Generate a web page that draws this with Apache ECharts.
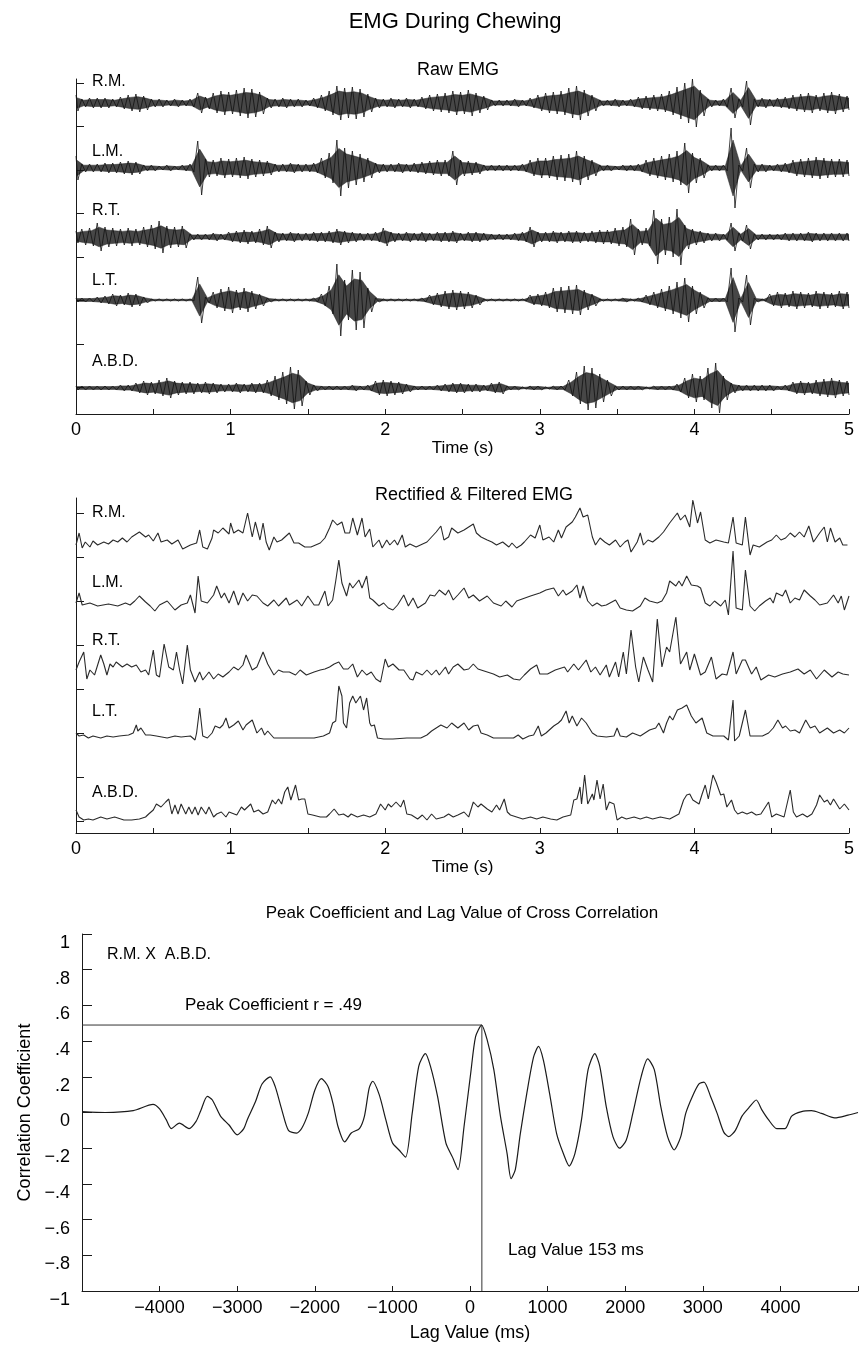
<!DOCTYPE html>
<html>
<head>
<meta charset="utf-8">
<title>EMG During Chewing</title>
<script src="https://cdn.jsdelivr.net/npm/echarts@6.0.0/dist/echarts.min.js"></script>
<style>
  html, body { margin: 0; padding: 0; background: #fff; }
  #chart { width: 861px; height: 1345px; }
</style>
</head>
<body>
<div id="chart"></div>
<script>
// ---- data ----
var traceNames = ['R.M.', 'L.M.', 'R.T.', 'L.T.', 'A.B.D.'];
var timeTicks = [0, 1, 2, 3, 4, 5];

// raw EMG: envelope half-amplitude every 0.05 s (0 .. 5 s)
var RAW_STEP = 0.05;
var rawRM = [8,4,5,5,5,4,6,8,9,7, 4,4,3,4,3,4,10,6,10,12, 11,13,15,14,11,5,4,5,4,4, 3,5,8,12,17,15,16,14,9,5,
  4,5,4,5,4,6,8,9,10,12, 11,13,10,7,3,3,3,4,3,5, 8,10,11,12,15,17,13,8,3,3, 4,3,4,6,7,8,9,12,16,20,
  24,13,4,3,4,15,4,22,4,5, 4,5,6,8,9,10,8,10,11,9, 7];
var rawLM = [12,4,4,4,5,5,6,7,6,3, 3,2,3,2,3,4,27,9,8,10, 9,10,11,9,8,7,4,4,5,4, 4,5,10,15,28,20,17,14,10,5,
  4,4,5,4,5,6,7,8,8,17, 8,7,6,3,3,3,3,3,4,8, 10,10,12,13,14,17,12,8,3,3, 2,3,3,4,8,10,12,14,17,25,
  15,10,3,3,3,40,3,20,4,4, 3,4,5,8,9,10,11,10,9,9, 8];
var rawRT = [6,8,9,14,10,9,8,9,8,10, 12,16,11,10,11,3,3,3,4,3, 5,6,7,6,8,11,5,4,5,4, 4,5,5,6,8,6,5,4,4,5,
  9,5,4,5,4,5,4,5,5,6, 4,5,5,4,3,3,3,4,5,10, 5,5,6,5,6,6,5,6,7,7, 9,10,18,8,9,27,18,20,28,12,
  8,6,4,4,3,14,4,12,3,3, 3,3,4,4,4,5,4,4,4,4, 4];
var rawLT = [2,2,2,3,4,6,5,7,6,3, 1,1,1,1,1,1,23,3,8,11, 13,10,12,9,6,2,1,1,1,1, 1,2,6,14,36,20,30,28,12,2,
  1,1,1,1,1,2,5,7,9,10, 9,8,5,1,1,1,1,1,1,5, 6,8,12,13,14,15,10,6,1,1, 1,2,1,2,5,8,11,14,18,22,
  14,8,2,2,2,32,2,25,2,1, 6,8,7,9,8,7,9,8,7,9, 8];
var rawABD = [2,2,2,2,2,2,3,3,5,7, 6,8,10,7,6,6,5,6,5,4, 4,5,4,5,5,8,12,16,21,18, 7,3,2,2,2,2,3,2,3,7,
  8,7,6,4,2,2,2,3,4,5, 5,4,4,3,5,6,2,2,1,2, 2,1,2,2,8,16,22,20,14,8, 2,2,2,2,1,2,2,2,4,10,
  14,12,20,25,12,5,3,3,3,3, 3,2,3,6,7,6,8,9,10,8, 7];

// rectified & filtered EMG: [time s, height above trace floor]
var rectRM = [[0,5],[0.02,17],[0.04,2],[0.06,8],[0.09,3],[0.11,9],[0.14,5],[0.18,8],[0.21,6],[0.24,10],[0.27,8],[0.30,12],
  [0.33,8],[0.36,13],[0.38,15],[0.41,18],[0.45,13],[0.47,15],[0.50,9],[0.53,17],[0.55,8],[0.59,10],[0.62,6],[0.66,10],
  [0.69,1],[0.74,5],[0.78,7],[0.80,20],[0.82,3],[0.85,1],[0.88,12],[0.89,20],[0.92,17],[0.95,22],[0.99,16],[1.00,27],
  [1.02,17],[1.05,20],[1.08,17],[1.11,37],[1.14,13],[1.16,28],[1.19,10],[1.21,27],[1.23,8],[1.25,0],[1.28,13],[1.30,8],
  [1.33,10],[1.38,17],[1.41,7],[1.44,7],[1.48,3],[1.52,3],[1.58,7],[1.61,12],[1.64,22],[1.66,30],[1.69,25],[1.72,28],
  [1.74,17],[1.77,17],[1.79,32],[1.82,15],[1.85,32],[1.87,13],[1.90,21],[1.92,3],[1.96,10],[1.98,2],[2.01,10],[2.03,5],
  [2.06,10],[2.08,5],[2.11,15],[2.13,3],[2.16,6],[2.20,3],[2.27,8],[2.30,13],[2.33,18],[2.36,24],[2.38,10],[2.41,13],
  [2.43,22],[2.47,17],[2.51,20],[2.54,23],[2.57,26],[2.59,17],[2.62,13],[2.66,10],[2.69,8],[2.72,5],[2.76,8],[2.80,3],
  [2.82,7],[2.85,2],[2.88,5],[2.90,8],[2.94,15],[2.97,12],[3.00,25],[3.02,10],[3.06,13],[3.09,8],[3.12,20],[3.14,12],
  [3.17,23],[3.21,28],[3.23,33],[3.26,42],[3.28,33],[3.31,35],[3.34,13],[3.36,5],[3.39,12],[3.42,8],[3.45,5],[3.49,10],
  [3.52,3],[3.55,8],[3.57,10],[3.59,-2],[3.63,8],[3.65,17],[3.67,5],[3.70,10],[3.73,8],[3.77,13],[3.80,18],[3.84,27],
  [3.89,37],[3.91,30],[3.94,35],[3.97,23],[3.99,50],[4.02,27],[4.04,38],[4.07,10],[4.10,7],[4.14,10],[4.19,8],[4.22,7],
  [4.25,33],[4.27,7],[4.31,5],[4.33,33],[4.36,-5],[4.38,5],[4.42,3],[4.47,8],[4.50,10],[4.53,15],[4.56,10],[4.59,12],
  [4.62,17],[4.65,13],[4.68,18],[4.71,13],[4.74,24],[4.77,8],[4.81,17],[4.84,23],[4.86,8],[4.88,22],[4.91,8],[4.94,12],
  [4.96,5],[4.99,5]];
var rectLM = [[0,5],[0.02,15],[0.04,3],[0.09,5],[0.14,2],[0.21,4],[0.27,2],[0.32,5],[0.35,3],[0.38,7],[0.41,12],[0.45,6],
  [0.48,2],[0.51,-3],[0.54,3],[0.59,7],[0.64,-2],[0.68,3],[0.72,5],[0.74,13],[0.77,-5],[0.79,32],[0.81,7],[0.85,5],
  [0.89,13],[0.91,22],[0.94,10],[0.96,15],[0.99,5],[1.02,17],[1.05,3],[1.08,15],[1.11,7],[1.14,13],[1.17,12],[1.21,5],
  [1.24,2],[1.28,8],[1.31,2],[1.36,10],[1.38,3],[1.43,8],[1.46,2],[1.50,12],[1.54,3],[1.57,3],[1.61,17],[1.63,2],
  [1.66,8],[1.68,27],[1.70,48],[1.72,25],[1.75,12],[1.77,25],[1.79,20],[1.83,28],[1.85,20],[1.88,32],[1.90,10],[1.92,8],
  [1.96,2],[1.99,5],[2.02,0],[2.05,-2],[2.08,3],[2.12,13],[2.15,2],[2.18,10],[2.21,0],[2.26,5],[2.29,13],[2.32,12],
  [2.35,18],[2.39,13],[2.41,18],[2.44,8],[2.47,13],[2.51,20],[2.54,10],[2.57,13],[2.61,7],[2.66,12],[2.70,5],[2.75,2],
  [2.78,7],[2.82,1],[2.85,7],[2.94,12],[3.00,15],[3.04,18],[3.09,20],[3.12,12],[3.15,18],[3.17,13],[3.21,17],[3.24,23],
  [3.26,10],[3.28,22],[3.31,7],[3.34,2],[3.37,5],[3.40,2],[3.43,3],[3.49,8],[3.52,0],[3.56,-2],[3.60,-3],[3.65,2],
  [3.68,10],[3.71,7],[3.76,5],[3.79,7],[3.82,15],[3.84,27],[3.88,22],[3.90,27],[3.92,22],[3.95,32],[3.98,23],[4.02,22],
  [4.04,20],[4.07,5],[4.10,2],[4.13,7],[4.17,2],[4.20,8],[4.22,-7],[4.25,57],[4.27,0],[4.31,-2],[4.33,38],[4.36,2],
  [4.39,-3],[4.42,2],[4.46,7],[4.49,10],[4.51,5],[4.53,15],[4.57,12],[4.59,18],[4.62,5],[4.65,10],[4.68,8],[4.71,18],
  [4.75,12],[4.78,8],[4.81,3],[4.86,5],[4.90,13],[4.93,5],[4.95,12],[4.97,-2],[5.00,12]];
var rectRT = [[0,12],[0.02,20],[0.05,30],[0.07,3],[0.09,12],[0.12,7],[0.16,27],[0.18,18],[0.20,7],[0.22,18],[0.24,15],
  [0.26,20],[0.30,15],[0.33,18],[0.36,15],[0.39,17],[0.42,10],[0.45,12],[0.47,7],[0.50,32],[0.52,7],[0.54,5],[0.57,38],
  [0.60,15],[0.63,12],[0.65,30],[0.67,12],[0.69,-2],[0.72,37],[0.74,12],[0.77,0],[0.80,10],[0.82,2],[0.86,10],[0.89,3],
  [0.92,8],[0.95,5],[0.99,10],[1.02,15],[1.05,12],[1.08,17],[1.10,27],[1.14,12],[1.17,15],[1.21,30],[1.24,18],[1.28,7],
  [1.31,12],[1.34,10],[1.38,10],[1.42,7],[1.45,12],[1.49,7],[1.54,10],[1.58,12],[1.61,13],[1.64,15],[1.67,18],[1.70,20],
  [1.73,13],[1.76,13],[1.79,18],[1.82,5],[1.85,12],[1.88,7],[1.91,10],[1.94,3],[1.97,0],[2.00,23],[2.02,15],[2.05,18],
  [2.09,12],[2.12,12],[2.16,3],[2.18,2],[2.20,10],[2.24,7],[2.27,12],[2.30,7],[2.33,12],[2.35,7],[2.39,15],[2.41,8],
  [2.44,15],[2.47,18],[2.51,12],[2.54,13],[2.57,18],[2.60,13],[2.62,12],[2.66,10],[2.70,8],[2.74,5],[2.79,7],[2.83,3],
  [2.87,2],[2.90,7],[2.94,13],[2.98,17],[3.00,8],[3.05,8],[3.10,12],[3.16,15],[3.18,10],[3.22,18],[3.25,12],[3.30,22],
  [3.33,10],[3.36,15],[3.39,7],[3.43,17],[3.45,5],[3.49,20],[3.51,5],[3.54,30],[3.56,8],[3.59,52],[3.62,15],[3.64,0],
  [3.67,25],[3.70,12],[3.73,0],[3.76,63],[3.79,15],[3.82,35],[3.84,30],[3.88,65],[3.91,18],[3.95,30],[3.97,12],[4.00,28],
  [4.04,7],[4.07,10],[4.11,25],[4.14,3],[4.18,8],[4.21,7],[4.25,30],[4.27,8],[4.31,22],[4.33,22],[4.37,8],[4.40,15],
  [4.43,2],[4.48,7],[4.52,5],[4.57,8],[4.62,10],[4.67,13],[4.71,8],[4.75,12],[4.79,3],[4.84,12],[4.89,5],[4.93,10],
  [4.96,8],[5.00,7]];
var rectLT = [[0,6],[0.02,3],[0.05,4],[0.08,1],[0.11,3],[0.16,1],[0.20,3],[0.24,2],[0.28,3],[0.34,4],[0.37,6],[0.39,14],
  [0.40,8],[0.42,11],[0.45,4],[0.48,4],[0.52,3],[0.59,1],[0.64,3],[0.68,2],[0.74,3],[0.77,-1],[0.78,6],[0.80,31],[0.82,3],
  [0.85,1],[0.88,6],[0.90,13],[0.93,11],[0.95,14],[0.97,21],[0.99,11],[1.02,14],[1.05,18],[1.08,9],[1.10,14],[1.14,19],
  [1.15,21],[1.17,6],[1.20,11],[1.22,4],[1.24,8],[1.28,1],[1.36,1],[1.45,1],[1.54,1],[1.60,3],[1.64,6],[1.66,16],[1.68,18],
  [1.70,53],[1.72,43],[1.73,16],[1.75,11],[1.77,36],[1.79,43],[1.81,36],[1.84,43],[1.86,29],[1.88,41],[1.90,16],[1.91,13],
  [1.93,14],[1.95,1],[1.99,0],[2.05,0],[2.14,1],[2.23,1],[2.27,4],[2.30,8],[2.33,11],[2.36,14],[2.40,11],[2.43,16],
  [2.47,11],[2.51,16],[2.54,9],[2.57,13],[2.60,14],[2.62,6],[2.66,4],[2.70,1],[2.79,1],[2.83,1],[2.86,4],[2.89,0],[2.93,3],
  [2.96,4],[2.99,13],[3.01,3],[3.04,6],[3.09,13],[3.12,16],[3.14,19],[3.17,28],[3.19,16],[3.21,23],[3.24,13],[3.27,21],
  [3.30,16],[3.34,6],[3.37,3],[3.43,2],[3.48,3],[3.50,11],[3.52,3],[3.56,2],[3.60,6],[3.65,3],[3.68,6],[3.71,9],[3.75,11],
  [3.77,16],[3.80,6],[3.82,16],[3.84,23],[3.86,19],[3.89,29],[3.92,31],[3.95,34],[3.98,23],[4.01,16],[4.05,21],[4.08,6],
  [4.12,3],[4.19,3],[4.22,-1],[4.25,39],[4.26,-2],[4.29,3],[4.33,29],[4.36,3],[4.39,3],[4.44,3],[4.48,6],[4.51,11],
  [4.54,19],[4.57,11],[4.59,13],[4.62,8],[4.65,9],[4.68,6],[4.72,19],[4.75,11],[4.78,13],[4.81,6],[4.86,11],[4.90,6],
  [4.94,9],[4.97,6],[5.00,11]];
var rectABD = [[0,11],[0.02,4],[0.05,1],[0.08,2],[0.11,1],[0.16,4],[0.20,2],[0.25,4],[0.31,1],[0.36,1],[0.41,2],[0.45,4],
  [0.47,7],[0.50,11],[0.52,17],[0.55,14],[0.58,19],[0.60,22],[0.62,7],[0.64,16],[0.66,7],[0.68,17],[0.71,7],[0.73,14],
  [0.75,7],[0.77,14],[0.79,6],[0.81,14],[0.84,7],[0.86,14],[0.89,4],[0.91,7],[0.94,9],[0.97,4],[0.99,9],[1.04,6],[1.07,14],
  [1.09,11],[1.13,17],[1.15,9],[1.18,11],[1.21,7],[1.24,9],[1.27,21],[1.29,17],[1.31,22],[1.33,17],[1.35,29],[1.37,34],
  [1.39,21],[1.41,31],[1.42,36],[1.44,21],[1.46,22],[1.48,22],[1.50,7],[1.53,6],[1.58,4],[1.62,4],[1.64,7],[1.67,12],
  [1.70,6],[1.73,7],[1.76,4],[1.78,7],[1.82,4],[1.86,6],[1.90,4],[1.94,7],[1.97,17],[2.00,11],[2.02,17],[2.04,14],
  [2.07,19],[2.10,14],[2.12,21],[2.14,7],[2.17,6],[2.21,2],[2.24,6],[2.27,1],[2.30,7],[2.33,2],[2.38,4],[2.41,7],[2.44,4],
  [2.47,6],[2.51,9],[2.54,4],[2.57,19],[2.60,14],[2.62,17],[2.66,12],[2.69,9],[2.72,16],[2.74,11],[2.77,22],[2.79,9],
  [2.81,6],[2.85,4],[2.89,2],[2.94,4],[2.98,2],[3.02,4],[3.07,2],[3.11,1],[3.15,4],[3.20,6],[3.22,21],[3.24,22],[3.26,34],
  [3.27,17],[3.29,46],[3.31,17],[3.34,27],[3.35,21],[3.37,41],[3.39,22],[3.41,37],[3.43,11],[3.45,19],[3.48,17],[3.50,1],
  [3.53,4],[3.56,2],[3.61,4],[3.65,2],[3.69,4],[3.73,2],[3.78,4],[3.84,2],[3.90,7],[3.93,21],[3.95,26],[3.97,27],[3.99,21],
  [4.03,17],[4.05,27],[4.07,36],[4.09,22],[4.12,46],[4.14,39],[4.17,26],[4.19,27],[4.21,14],[4.24,21],[4.26,11],[4.28,7],
  [4.31,9],[4.34,7],[4.37,9],[4.40,6],[4.43,7],[4.48,19],[4.50,4],[4.53,7],[4.58,4],[4.62,31],[4.64,9],[4.66,4],[4.70,7],
  [4.73,4],[4.76,7],[4.79,16],[4.81,26],[4.84,19],[4.86,21],[4.88,16],[4.90,22],[4.94,12],[4.97,17],[5.00,11]];

// cross correlation R.M. x A.B.D.
var lagMs = [-5000,-4700,-4340,-4085,-4000,-3915,-3850,-3745,-3620,-3530,
  -3470,-3385,-3320,-3215,-3105,-3000,-2915,-2870,-2765,-2680,
  -2575,-2510,-2425,-2340,-2235,-2170,-2085,-2000,-1915,-1830,
  -1765,-1700,-1615,-1530,-1425,-1360,-1300,-1255,-1170,-1085,
  -1000,-915,-830,-745,-660,-575,-510,-418,-311,-226,
  -154,-77,9,72,150,222,307,392,478,529,
  584,648,733,819,883,947,1032,1117,1203,1279,
  1352,1437,1522,1608,1672,1757,1842,1927,2013,2098,
  2205,2290,2375,2460,2546,2631,2716,2780,2866,2951,
  3015,3100,3185,3270,3335,3420,3505,3590,3689,3761,
  3846,3953,4060,4145,4273,4401,4529,4699,4870,5000];
var corrR = [0.005,0,0.01,0.045,0.02,-0.04,-0.09,-0.06,-0.09,-0.05,
  0.01,0.09,0.07,-0.02,-0.07,-0.125,-0.09,-0.04,0.06,0.16,
  0.2,0.145,0.015,-0.1,-0.115,-0.09,-0.005,0.125,0.19,0.145,
  0.05,-0.08,-0.165,-0.115,-0.09,-0.02,0.135,0.175,0.1,-0.04,
  -0.17,-0.21,-0.25,-0.005,0.26,0.33,0.26,0.09,-0.17,-0.25,
  -0.32,-0.08,0.22,0.425,0.49,0.405,0.24,-0.02,-0.23,-0.37,
  -0.32,-0.12,0.11,0.31,0.37,0.29,0.09,-0.12,-0.23,-0.30,
  -0.23,-0.04,0.24,0.33,0.26,0.03,-0.135,-0.2,-0.155,-0.005,
  0.2,0.30,0.24,0.03,-0.135,-0.21,-0.135,-0.005,0.09,0.16,
  0.17,0.09,-0.005,-0.11,-0.135,-0.1,-0.02,0.025,0.07,0.015,
  -0.04,-0.09,-0.09,-0.02,0.005,0.01,-0.005,-0.03,-0.015,0];
var peakLag = 153, peakR = 0.49;

// ---- layout ----
var FONT = '"Liberation Sans", Arial, Helvetica, sans-serif';
var INK = '#1a1a1a';
// trace offsets inside each panel (axis units = px from panel bottom)
var rawBase = [311, 246, 177, 114, 26];
var rectBase = [283, 225, 151, 94, 12];
var rawTickPos = [26.5, 70, 113.5, 157, 200.5, 244, 287.5, 331];
var rectTickPos = [12, 56, 100, 144, 188, 232, 276, 320];
var rawLabelY = [82, 152, 211, 281, 362];
var rectLabelY = [513, 583, 641, 712, 793];

var rawSets = [rawRM, rawLM, rawRT, rawLT, rawABD];
var rectSets = [rectRM, rectLM, rectRT, rectLT, rectABD];

function rawPoints(amps, base) {
	var pts = [];
	amps.forEach(function (a, i) {
		var t = i * RAW_STEP;
		pts.push([Math.max(0, t - RAW_STEP / 4), base + a]);
		pts.push([Math.min(5, t + RAW_STEP / 4), base - a]);
	});
	return pts;
}
function rectPoints(rows, base) {
	return rows.map(function (r) { return [r[0], base + r[1]]; });
}
// dense core of each raw trace, drawn from the same envelope values
function envelopeSeries(amps, base) {
	return {
		type: 'custom', xAxisIndex: 0, yAxisIndex: 0, data: [[0, base]], silent: true, clip: true, z: 1,
		renderItem: function (params, api) {
			var pts = [];
			amps.forEach(function (a, i) { pts.push(api.coord([i * RAW_STEP, base + a * 0.7])); });
			for (var i = amps.length - 1; i >= 0; i--) pts.push(api.coord([i * RAW_STEP, base - amps[i] * 0.7]));
			return { type: 'polygon', shape: { points: pts }, style: { fill: 'rgba(25,25,25,0.8)', stroke: '#222', lineWidth: 0.5 } };
		}
	};
}

function timeAxis(gridIndex) {
	return {
		type: 'value', gridIndex: gridIndex, min: 0, max: 5, interval: 0.5,
		axisLine: { onZero: false, lineStyle: { color: INK, width: 1 } },
		axisTick: { inside: true, length: 5, lineStyle: { color: INK } },
		splitLine: { show: false },
		axisLabel: {
			color: '#000', fontSize: 18, fontFamily: FONT, margin: 7,
			formatter: function (v) { return timeTicks.indexOf(v) >= 0 ? String(v) : ''; }
		},
		name: 'Time (s)', nameLocation: 'middle', nameGap: 19,
		nameTextStyle: { color: '#000', fontSize: 17, fontFamily: FONT }
	};
}
function stackAxis(gridIndex, max, ticks) {
	return {
		type: 'value', gridIndex: gridIndex, min: 0, max: max,
		axisLine: { show: true, onZero: false, lineStyle: { color: INK, width: 1 } },
		axisTick: { show: true, inside: true, length: 8, customValues: ticks, lineStyle: { color: INK } },
		axisLabel: { show: false },
		splitLine: { show: false }
	};
}

function corrTick(v) {
	var r = Math.round(v * 10) / 10;
	if (r === 0) return '0';
	if (Math.abs(r) === 1) return r < 0 ? '\u22121' : '1';
	var s = Math.abs(r).toFixed(1).replace(/^0/, '');
	return (r < 0 ? '\u2212' : '') + s;
}

var series = [];
rawSets.forEach(function (d, i) {
	series.push(envelopeSeries(d, rawBase[i]));
	series.push({
		type: 'line', xAxisIndex: 0, yAxisIndex: 0, data: rawPoints(d, rawBase[i]), z: 2,
		showSymbol: false, symbol: 'none', lineStyle: { color: '#111', width: 0.8 }, silent: true
	});
});
rectSets.forEach(function (d, i) {
	series.push({
		type: 'line', xAxisIndex: 1, yAxisIndex: 1, data: rectPoints(d, rectBase[i]),
		showSymbol: false, symbol: 'none', lineStyle: { color: '#2a2a2a', width: 1.1 }, silent: true
	});
});
series.push({
	type: 'line', xAxisIndex: 2, yAxisIndex: 2,
	data: lagMs.map(function (l, i) { return [l, corrR[i]]; }),
	showSymbol: false, symbol: 'none', smooth: 0.25, lineStyle: { color: INK, width: 1.2 }, silent: true
});
// peak coefficient / lag guide lines
series.push({
	type: 'line', xAxisIndex: 2, yAxisIndex: 2,
	data: [[-5000, peakR], [peakLag, peakR], [peakLag, -1]],
	showSymbol: false, symbol: 'none', lineStyle: { color: '#333', width: 1 }, silent: true
});

var labels = [];
traceNames.forEach(function (n, i) {
	labels.push({ type: 'text', x: 92, y: rawLabelY[i], style: { text: n, fontSize: 16, fontFamily: FONT, fill: '#000', textVerticalAlign: 'middle' } });
	labels.push({ type: 'text', x: 92, y: rectLabelY[i], style: { text: n, fontSize: 16, fontFamily: FONT, fill: '#000', textVerticalAlign: 'middle' } });
});
function centered(text, x, y, size) {
	return { type: 'text', x: x, y: y, style: { text: text, fontSize: size, fontFamily: FONT, fill: '#000', textAlign: 'center', textVerticalAlign: 'middle' } };
}
function leftText(text, x, y, size) {
	return { type: 'text', x: x, y: y, style: { text: text, fontSize: size, fontFamily: FONT, fill: '#000', textVerticalAlign: 'middle' } };
}
labels.push(centered('EMG During Chewing', 455, 22, 22));
labels.push(centered('Raw EMG', 458, 70, 18));
labels.push(centered('Rectified & Filtered EMG', 474, 495, 18));
labels.push(centered('Peak Coefficient and Lag Value of Cross Correlation', 462, 913, 17));
labels.push(leftText('R.M. X  A.B.D.', 107, 955, 16));
labels.push(leftText('Peak Coefficient r = .49', 185, 1005, 17));
labels.push(leftText('Lag Value 153 ms', 508, 1250, 17));

var chart = echarts.init(document.getElementById('chart'), null, { renderer: 'canvas' });
chart.setOption({
	animation: false,
	backgroundColor: '#fff',
	textStyle: { fontFamily: FONT },
	grid: [
		{ left: 76, top: 79, width: 773, height: 335 },
		{ left: 76, top: 498, width: 773, height: 335 },
		{ left: 82, top: 934, width: 782, height: 357 }
	],
	xAxis: [
		timeAxis(0),
		timeAxis(1),
		{
			type: 'value', gridIndex: 2, min: -5000, max: 5000, interval: 1000,
			axisLine: { onZero: false, lineStyle: { color: INK, width: 1 } },
			axisTick: { inside: true, length: 5, lineStyle: { color: INK } },
			splitLine: { show: false },
			axisLabel: {
				color: '#000', fontSize: 18, fontFamily: FONT, margin: 8,
				formatter: function (v) { return Math.abs(v) === 5000 ? '' : (v < 0 ? '\u2212' + Math.abs(v) : String(v)); }
			},
			name: 'Lag Value (ms)', nameLocation: 'middle', nameGap: 33,
			nameTextStyle: { color: '#000', fontSize: 18, fontFamily: FONT }
		}
	],
	yAxis: [
		stackAxis(0, 335, rawTickPos),
		stackAxis(1, 335, rectTickPos),
		{
			type: 'value', gridIndex: 2, min: -1, max: 1, interval: 0.2,
			axisLine: { show: true, onZero: false, lineStyle: { color: INK, width: 1 } },
			axisTick: { show: true, inside: true, length: 10, lineStyle: { color: INK } },
			splitLine: { show: false },
			axisLabel: { color: '#000', fontSize: 18, fontFamily: FONT, margin: 12, verticalAlign: 'top', formatter: corrTick },
			name: 'Correlation Coefficient', nameLocation: 'middle', nameGap: 45, nameRotate: 90,
			nameTextStyle: { color: '#000', fontSize: 18, fontFamily: FONT }
		}
	],
	series: series,
	graphic: labels
});
</script>
</body>
</html>
